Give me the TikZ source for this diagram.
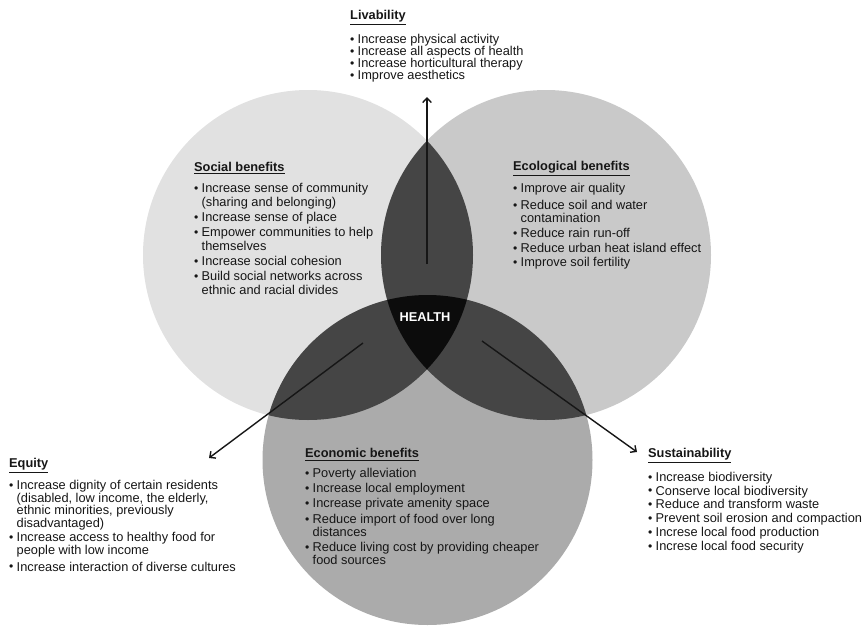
\documentclass[tikz,border=0pt]{standalone}
\usepackage{fontspec}
\setmainfont{Liberation Sans}
\usetikzlibrary{arrows.meta}

\definecolor{socialfill}{HTML}{E1E1E1}
\definecolor{ecofill}{HTML}{C9C9C9}
\definecolor{econfill}{HTML}{ABABAB}
\definecolor{overlapfill}{HTML}{454545}
\definecolor{corefill}{HTML}{0C0C0C}
\definecolor{ink}{HTML}{161616}

% bullet and continuation indent for the benefit lists
\newcommand{\bitem}{\makebox[7.5pt][l]{\raisebox{0.2pt}{\scalebox{0.95}{•}}}}
\newcommand{\bcont}{\hspace*{7.5pt}}
% first-line strut so that a list's top sits 10pt above its first baseline
\newcommand{\fl}{\rule{0pt}{10pt}}
% heading with a rule under it
\newcommand{\headline}[1]{\setbox0\hbox{#1}\leavevmode\rlap{\rule[-\dimexpr\dp0+2.8pt\relax]{\wd0}{0.9pt}}\box0}

\setlength{\lineskiplimit}{-20pt}

\begin{document}
\begin{tikzpicture}[x=1pt,y=-1pt,
  heading/.style={anchor=base west, inner sep=0pt, text=ink,
    font=\fontsize{12.8}{13}\selectfont\bfseries},
  list/.style={anchor=north west, inner sep=0pt, align=left, text=ink},
  arrowline/.style={line width=1.4pt, draw=ink,
    -{Straight Barb[length=4.5pt,width=8.5pt]}}]

\useasboundingbox (0,0) rectangle (868,627);

% circle centres
\coordinate (cS) at (308,255);
\coordinate (cE) at (546,255);
\coordinate (cB) at (427.5,460);

% the three circles
\fill[socialfill] (cS) circle[radius=165pt];
\fill[ecofill] (cE) circle[radius=165pt];
\fill[econfill] (cB) circle[radius=165pt];

% pairwise overlaps
\begin{scope}
  \clip (cS) circle[radius=165pt];
  \fill[overlapfill] (cE) circle[radius=165pt];
  \fill[overlapfill] (cB) circle[radius=165pt];
\end{scope}
\begin{scope}
  \clip (cE) circle[radius=165pt];
  \fill[overlapfill] (cB) circle[radius=165pt];
\end{scope}

% common core
\begin{scope}
  \clip (cS) circle[radius=165pt];
  \clip (cE) circle[radius=165pt];
  \fill[corefill] (cB) circle[radius=165pt];
\end{scope}

\node[font=\fontsize{12.8}{13}\selectfont\bfseries, text=white, inner sep=0pt] (health) at (425,317) {HEALTH};

% arrows out of the centre
\coordinate (upStart) at (427,264);
\coordinate (upEnd) at (427,97);
\coordinate (leftStart) at (363,343);
\coordinate (leftEnd) at (209,458);
\coordinate (rightStart) at (482,341);
\coordinate (rightEnd) at (637,452);
\draw[arrowline] (upStart) -- (upEnd);
\draw[arrowline] (leftStart) -- (leftEnd);
\draw[arrowline] (rightStart) -- (rightEnd);

% Livability
\node[heading] (livT) at (350,19) {\headline{Livability}};
\node[list, font=\fontsize{12.8}{12}\selectfont] (livL) at (350,33) {%
\fl\bitem Increase physical activity\\
\bitem Increase all aspects of health\\
\bitem Increase horticultural therapy\\
\bitem Improve aesthetics};

% Social benefits
\node[heading] (socT) at (194,171) {\headline{Social benefits}};
\node[list, font=\fontsize{12.8}{14}\selectfont] (socL) at (194,182) {%
\fl\bitem Increase sense of community\\
\bcont (sharing and belonging)\\[1pt]
\bitem Increase sense of place\\[1pt]
\bitem Empower communities to help\\
\bcont themselves\\[1pt]
\bitem Increase social cohesion\\[1pt]
\bitem Build social networks across\\
\bcont ethnic and racial divides};

% Ecological benefits
\node[heading] (ecoT) at (513,170.5) {\headline{Ecological benefits}};
\node[list, font=\fontsize{12.8}{13}\selectfont] (ecoL) at (513,182) {%
\fl\bitem Improve air quality\\[4pt]
\bitem Reduce soil and water\\
\bcont contamination\\[2pt]
\bitem Reduce rain run-off\\[2pt]
\bitem Reduce urban heat island effect\\[1pt]
\bitem Improve soil fertility};

% Economic benefits
\node[heading] (econT) at (305,457.5) {\headline{Economic benefits}};
\node[list, font=\fontsize{12.8}{13}\selectfont] (econL) at (305,467) {%
\fl\bitem Poverty alleviation\\[2pt]
\bitem Increase local employment\\[2pt]
\bitem Increase private amenity space\\[3pt]
\bitem Reduce import of food over long\\
\bcont distances\\[2pt]
\bitem Reduce living cost by providing cheaper\\
\bcont food sources};

% Equity
\node[heading] (eqT) at (9,467) {\headline{Equity}};
\node[list, font=\fontsize{12.8}{12.8}\selectfont] (eqL) at (9,479) {%
\fl\bitem Increase dignity of certain residents\\
\bcont (disabled, low income, the elderly,\\
\bcont ethnic minorities, previously\\
\bcont disadvantaged)\\[1pt]
\bitem Increase access to healthy food for\\
\bcont people with low income\\[4pt]
\bitem Increase interaction of diverse cultures};

% Sustainability
\node[heading] (susT) at (648,457.5) {\headline{Sustainability}};
\node[list, font=\fontsize{12.8}{13.8}\selectfont] (susL) at (648,471) {%
\fl\bitem Increase biodiversity\\
\bitem Conserve local biodiversity\\
\bitem Reduce and transform waste\\
\bitem Prevent soil erosion and compaction\\
\bitem Increse local food production\\
\bitem Increse local food security};

\end{tikzpicture}
\end{document}
